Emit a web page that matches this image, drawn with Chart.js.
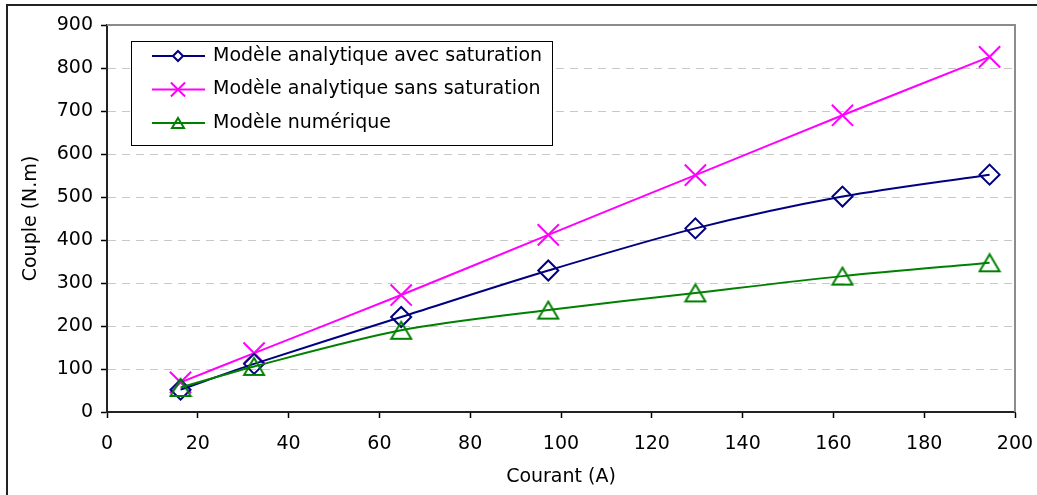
<!DOCTYPE html>
<html>
<head>
<meta charset="utf-8">
<script src="https://cdn.jsdelivr.net/npm/chart.js@4/dist/chart.umd.min.js"></script>
<style>
	body { margin: 0; background: #fff; }
	canvas { display: block; }
</style>
</head>
<body>
<canvas id="chartView" width="1037" height="495"></canvas>
<script>
// courant (A) at which each model was evaluated
var courant = [16.2, 32.4, 64.8, 97.2, 129.6, 162, 194.4];

// couple (N.m)
var avecSaturation = [52, 112, 221, 329, 427, 501, 552];
var sansSaturation = [69, 137, 272, 412, 551, 690, 826];
var numerique = [57, 106, 190, 237, 277, 316, 347];

var labels = [
	'Modèle analytique avec saturation',
	'Modèle analytique sans saturation',
	'Modèle numérique'
];

var xTitle = 'Courant (A)';
var yTitle = 'Couple (N.m)';

Chart.defaults.font.family = "'DejaVu Sans', sans-serif";
Chart.defaults.font.size = 19;
Chart.defaults.color = '#000';

function points(values) {
	return courant.map((x, i) => {
		return { x: x, y: values[i] };
	});
}

// excel centres the triangle on its box, chart.js on its circumcircle
function triangleMarker(w, color) {
	var h = Math.round(w * 0.87);
	var c = document.createElement('canvas');
	c.width = w + 4;
	c.height = h + 4;
	var t = c.getContext('2d');
	t.strokeStyle = color;
	t.lineWidth = 2;
	t.beginPath();
	t.moveTo(c.width / 2, 2);
	t.lineTo(w + 2, h + 2);
	t.lineTo(2, h + 2);
	t.closePath();
	t.stroke();
	return c;
}

function serie(r) {
	var color, style, radius, order, data;
	switch (r) {
		case 0:
			color = '#000080';
			style = 'rectRot';
			radius = 10;
			order = 2;
			data = avecSaturation;
			break;
		case 1:
			color = '#ff00ff';
			style = 'crossRot';
			radius = 15;
			order = 3;
			data = sansSaturation;
			break;
		case 2:
		default:
			color = '#008000';
			style = triangleMarker(20, color);
			radius = 11;
			order = 1;
			data = numerique;
			break;
	}
	return {
		label: labels[r],
		data: points(data),
		borderColor: color,
		borderWidth: 2,
		backgroundColor: 'transparent',
		pointStyle: style,
		pointRadius: radius,
		pointBorderColor: color,
		pointBackgroundColor: 'rgba(0,0,0,0)',
		pointBorderWidth: 2,
		tension: 0.3,
		order: order
	};
}

// legend box inside the plot, like the original
var legendBox = {
	id: 'legendBox',
	afterDatasetsDraw(chart) {
		var ctx = chart.ctx;
		var a = chart.chartArea;
		var bx = a.left + 24, by = a.top + 16, bw = 421, bh = 104;
		ctx.save();
		ctx.fillStyle = '#fff';
		ctx.fillRect(bx, by, bw, bh);
		ctx.strokeStyle = '#000';
		ctx.lineWidth = 1;
		ctx.strokeRect(bx + 0.5, by + 0.5, bw, bh);
		var styles = ['rectRot', 'crossRot', triangleMarker(12, '#008000')];
		var sizes = [5, 10, 6.5];
		chart.data.datasets.forEach((ds, i) => {
			var y = by + 15 + i * 33.5;
			ctx.strokeStyle = ds.borderColor;
			ctx.lineWidth = 2;
			ctx.beginPath();
			ctx.moveTo(bx + 21, y);
			ctx.lineTo(bx + 74, y);
			ctx.stroke();
			ctx.fillStyle = '#fff';
			Chart.helpers.drawPoint(ctx, {
				pointStyle: styles[i],
				radius: sizes[i],
				rotation: 0,
				borderWidth: 2
			}, bx + 47, y);
			ctx.fillStyle = '#000';
			ctx.font = "19px 'DejaVu Sans'";
			ctx.textBaseline = 'middle';
			ctx.textAlign = 'left';
			ctx.fillText(ds.label, bx + 82, y);
		});
		ctx.restore();
	}
};

var frames = {
	id: 'frames',
	beforeDatasetsDraw(chart) {
		var ctx = chart.ctx;
		var a = chart.chartArea;
		ctx.save();
		ctx.strokeStyle = '#8c8c8c';
		ctx.lineWidth = 2;
		ctx.beginPath();
		ctx.moveTo(a.left, a.top);
		ctx.lineTo(a.right, a.top);
		ctx.lineTo(a.right, a.bottom);
		ctx.stroke();
		ctx.restore();
	},
	afterDraw(chart) {
		var ctx = chart.ctx;
		ctx.save();
		ctx.strokeStyle = '#222';
		ctx.lineWidth = 2;
		ctx.strokeRect(7, 5, chart.width + 20, chart.height + 20);
		ctx.restore();
	}
};

var ctx = document.getElementById('chartView').getContext('2d');
var chart = new Chart(ctx, {
	type: 'line',
	data: {
		datasets: [serie(0), serie(1), serie(2)]
	},
	options: {
		responsive: false,
		animation: false,
		devicePixelRatio: 1,
		layout: {
			padding: { left: 0, top: 25, right: 22, bottom: 0 }
		},
		plugins: {
			legend: { display: false },
			tooltip: { enabled: false }
		},
		scales: {
			x: {
				type: 'linear',
				min: 0,
				max: 200,
				afterFit: function (s) {
					s.height = 83;
					s.paddingLeft = 0;
					s.paddingRight = 0;
				},
				ticks: { stepSize: 20, padding: 15, maxRotation: 0 },
				grid: {
					drawOnChartArea: false,
					drawTicks: true,
					tickLength: 6,
					tickColor: '#000',
					tickWidth: 1.5
				},
				border: { display: true, color: '#222', width: 2 },
				title: {
					display: true,
					text: xTitle,
					font: { size: 19 },
					padding: { top: 0, bottom: 7 }
				}
			},
			y: {
				min: 0,
				max: 900,
				afterFit: function (s) { s.width = 107; },
				ticks: { stepSize: 100, padding: 8 },
				grid: {
					color: '#c8c8c8',
					lineWidth: 1,
					tickLength: 6,
					tickColor: '#000',
					tickWidth: 1.5
				},
				border: { display: true, color: '#222', width: 2, dash: [8, 6] },
				title: {
					display: true,
					text: yTitle,
					font: { size: 19 },
					padding: { top: 20, bottom: 0 }
				}
			}
		}
	},
	plugins: [frames, legendBox]
});
</script>
</body>
</html>
